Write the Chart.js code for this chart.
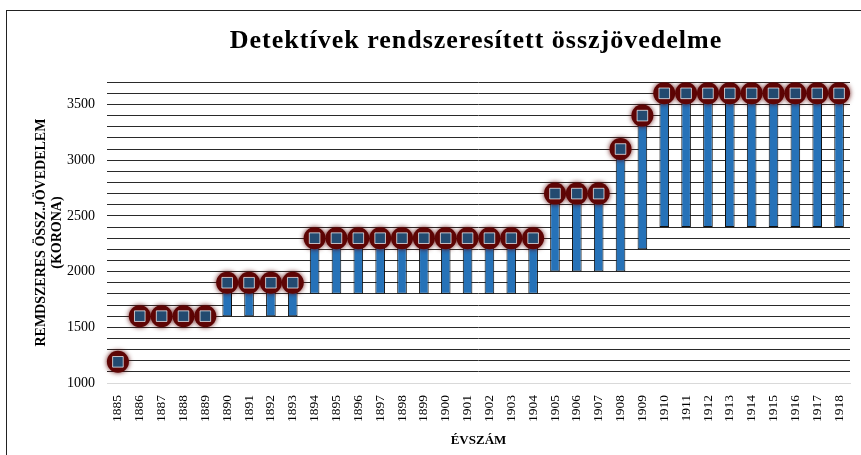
<!DOCTYPE html>
<html>
<head>
<meta charset="utf-8">
<script src="https://cdn.jsdelivr.net/npm/chart.js@4"></script>
<style>
html,body{margin:0;padding:0;background:#fff;}
#wrap{position:relative;width:861px;height:455px;overflow:hidden;}
#frame{position:absolute;left:6px;top:10px;width:900px;height:500px;border:1px solid #222;box-sizing:border-box;}
canvas{position:absolute;left:0;top:0;}
</style>
</head>
<body>
<div id="wrap">
<div id="frame"></div>
<canvas id="c" width="861" height="455"></canvas>
</div>
<script>
const years = ['1885','1886','1887','1888','1889','1890','1891','1892','1893','1894','1895','1896','1897','1898','1899','1900','1901','1902','1903','1904','1905','1906','1907','1908','1909','1910','1911','1912','1913','1914','1915','1916','1917','1918'];
const maxIncome = [1190,1600,1600,1600,1600,1900,1900,1900,1900,2300,2300,2300,2300,2300,2300,2300,2300,2300,2300,2300,2700,2700,2700,3100,3400,3600,3600,3600,3600,3600,3600,3600,3600,3600];
const minIncome = [null,null,null,null,null,1600,1600,1600,1600,1800,1800,1800,1800,1800,1800,1800,1800,1800,1800,1800,2000,2000,2000,2000,2200,2400,2400,2400,2400,2400,2400,2400,2400,2400];
const yTickLabels = ['1000','1500','2000','2500','3000','3500'];
const chartTitle = 'Detektívek rendszeresített összjövedelme';

const rangeData = years.map((y,i) => minIncome[i] === null ? null : [minIncome[i], maxIncome[i]]);

const glow = {
  id:'glow',
  beforeDatasetDraw(chart, args){
    if (args.index === 1){
      chart.ctx.save();
      chart.ctx.shadowColor = 'rgba(90,0,0,0.9)';
      chart.ctx.shadowBlur = 5;
    }
  },
  afterDatasetDraw(chart, args){
    if (args.index === 1){ chart.ctx.restore(); }
  }
};

const spacedTitle = {
  id:'spacedTitle',
  afterDraw(chart){
    const ctx = chart.ctx;
    ctx.save();
    ctx.font = 'bold 26px "Liberation Serif"';
    ctx.fillStyle = '#000';
    ctx.textAlign = 'center';
    ctx.textBaseline = 'alphabetic';
    try { ctx.letterSpacing = '1px'; } catch(e) {}
    ctx.fillText(chartTitle, 476, 48);
    ctx.restore();
  }
};

new Chart(document.getElementById('c'), {
  data: {
    labels: years,
    datasets: [
      {
        type:'bar',
        data: rangeData,
        backgroundColor:'#2672b8',
        borderColor:'#111',
        borderWidth:1,
        borderSkipped:false,
        barPercentage:0.44,
        categoryPercentage:1.0,
        order:3
      },
      {
        type:'line',
        data: maxIncome,
        showLine:false,
        pointStyle:'circle',
        pointRadius:11,
        pointBackgroundColor:'#5e0505',
        pointBorderWidth:0,
        order:2
      },
      {
        type:'line',
        data: maxIncome,
        showLine:false,
        pointStyle:'rect',
        pointRadius:7.5,
        pointBackgroundColor:'#234a70',
        pointBorderColor:'rgba(255,255,255,0.7)',
        pointBorderWidth:1,
        order:1
      }
    ]
  },
  options: {
    responsive:false,
    animation:false,
    events:[],
    layout:{padding:{left:33,right:3,top:0,bottom:7}},
    plugins:{
      legend:{display:false},
      tooltip:{enabled:false},
      title:{
        display:true,
        text:chartTitle,
        color:'rgba(0,0,0,0)',
        font:{family:'Liberation Serif',size:26,weight:'bold'},
        padding:{top:24,bottom:27}
      }
    },
    scales:{
      x:{
        type:'category',
        offset:true,
        grid:{display:false},
        border:{display:true,color:'#d9d9d9'},
        ticks:{color:'#000',font:{family:'Liberation Serif',size:13.5},minRotation:90,maxRotation:90,autoSkip:false,padding:4},
        title:{display:true,text:'ÉVSZÁM',color:'#000',font:{family:'Liberation Serif',size:13,weight:'bold'},padding:{top:6,bottom:0}},
        afterFit(s){ s.height = 65; }
      },
      y:{
        min:1000,max:3700,
        grid:{color:(c)=> c.tick && c.tick.value===1000 ? '#d9d9d9' : '#2a2a2a', lineWidth:1, drawTicks:false},
        border:{display:false},
        ticks:{
          stepSize:100,autoSkip:false,color:'#000',padding:12,
          font:{family:'Liberation Serif',size:14},
          callback:(v)=>{ const s=String(v); return yTickLabels.includes(s)?s:''; }
        },
        title:{display:true,text:['REMDSZERES ÖSSZ.JÖVEDELEM','(KORONA)'],color:'#000',font:{family:'Liberation Serif',size:14,weight:'bold',lineHeight:1.15},padding:{top:0,bottom:4}},
        afterFit(s){ s.width = 74; }
      }
    }
  },
  plugins:[glow, spacedTitle]
});
</script>
</body>
</html>
